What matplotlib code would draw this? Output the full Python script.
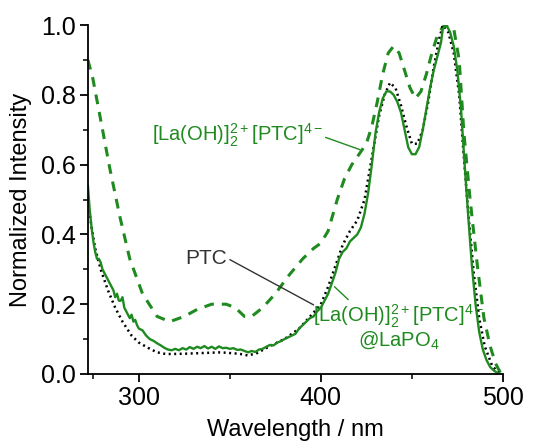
import numpy as np
import matplotlib.pyplot as plt
from matplotlib.ticker import FixedLocator, MultipleLocator

plt.rcParams['font.family'] = ['Liberation Sans', 'DejaVu Sans']
plt.rcParams['mathtext.fontset'] = 'custom'
plt.rcParams['mathtext.rm'] = 'Liberation Sans'

# [La(OH)]2[PTC] (dashed)
wl_dash = [272, 274.6, 278.6, 284, 289.6, 295, 302, 310, 317, 325, 332, 340, 348, 353, 358, 362,
           368, 375, 382, 390, 396, 400, 404, 409, 413, 417, 421, 425, 428, 431, 434, 437, 440,
           443, 446, 449, 452, 455, 458, 461, 464, 467, 470, 473, 476, 478.6, 482, 486, 489.6,
           493, 496, 499]
y_dash = [0.9, 0.85, 0.74, 0.59, 0.45, 0.33, 0.23, 0.165, 0.15, 0.165, 0.185, 0.2, 0.2, 0.19, 0.165, 0.165,
          0.19, 0.23, 0.28, 0.33, 0.36, 0.375, 0.41, 0.5, 0.56, 0.6, 0.63, 0.66, 0.71, 0.78, 0.86, 0.92, 0.94,
          0.92, 0.87, 0.82, 0.79, 0.81, 0.86, 0.92, 0.97, 0.995, 1.0, 0.99, 0.9, 0.69, 0.5, 0.31, 0.16,
          0.08, 0.03, 0.0]

# PTC (dotted)
wl_dot = [272, 274, 276, 279, 283, 287, 291, 296, 300, 305, 310, 315, 325, 335, 345, 355, 360, 365,
          372, 380, 388, 395, 400, 404, 408, 412, 416, 420, 424, 428, 432, 435, 438, 441, 444, 447,
          450, 453, 456, 459, 462, 465, 467, 470, 473, 476, 478, 481, 484, 487, 490, 494, 498]
y_dot = [0.5, 0.42, 0.36, 0.3, 0.24, 0.19, 0.15, 0.11, 0.09, 0.075, 0.062, 0.057, 0.058, 0.06, 0.062, 0.058, 0.053, 0.06,
         0.08, 0.1, 0.13, 0.17, 0.2, 0.25, 0.31, 0.37, 0.41, 0.44, 0.5, 0.62, 0.74, 0.8, 0.835, 0.82, 0.77, 0.71,
         0.66, 0.66, 0.7, 0.78, 0.88, 0.96, 1.0, 0.98, 0.92, 0.8, 0.66, 0.46, 0.29, 0.16, 0.08, 0.025, 0.0]

# [La(OH)]2[PTC]@LaPO4 (solid, noisy)
wl_sol = [272, 273, 274, 275, 276, 277, 278, 279, 280, 281, 282, 283, 284, 285, 286, 287, 288, 289,
          290, 291, 292, 293, 294, 295, 296, 297, 298, 299, 300, 302, 304, 306, 308, 310, 312, 314,
          316, 318, 320, 322, 324, 326, 328, 330, 332, 334, 336, 338, 340, 342, 344, 346, 348, 350,
          352, 354, 356, 358, 360, 362, 364, 366, 368, 370, 372, 374, 376, 378, 380, 382, 384, 386,
          388, 390, 392, 394, 396, 398, 400, 402, 404, 406, 408, 410, 412, 414, 416, 418, 420, 422,
          424, 426, 428, 430, 432, 434, 436, 438, 440, 442, 444, 446, 448, 450, 452, 454, 456, 458,
          460, 462, 464, 466, 467, 469, 471, 473, 475, 477, 479, 481, 483, 485, 487, 489, 491, 493,
          495, 497, 499]
y_sol = [0.54, 0.47, 0.42, 0.38, 0.35, 0.33, 0.33, 0.32, 0.3, 0.29, 0.28, 0.27, 0.26, 0.25, 0.24, 0.22, 0.23, 0.21,
         0.21, 0.22, 0.19, 0.18, 0.17, 0.16, 0.17, 0.15, 0.155, 0.14, 0.13, 0.125, 0.11, 0.1, 0.095, 0.088, 0.082, 0.075,
         0.07, 0.068, 0.072, 0.068, 0.074, 0.07, 0.077, 0.072, 0.078, 0.074, 0.08, 0.073, 0.078, 0.072, 0.079, 0.074, 0.075, 0.072,
         0.074, 0.069, 0.07, 0.066, 0.062, 0.066, 0.063, 0.07, 0.072, 0.078, 0.083, 0.082, 0.09, 0.094, 0.1, 0.105, 0.11, 0.115,
         0.13, 0.14, 0.15, 0.16, 0.165, 0.18, 0.19, 0.21, 0.23, 0.26, 0.29, 0.33, 0.35, 0.36, 0.38, 0.39, 0.4, 0.42,
         0.46, 0.52, 0.6, 0.69, 0.75, 0.79, 0.81, 0.81, 0.8, 0.78, 0.75, 0.7, 0.65, 0.63, 0.63, 0.65, 0.7, 0.76,
         0.82, 0.87, 0.91, 0.95, 0.99, 1.0, 0.98, 0.94, 0.87, 0.76, 0.6, 0.45, 0.31, 0.2, 0.12, 0.07, 0.04, 0.02,
         0.01, 0.003, 0.0]

green = '#1f8a1f'

fig = plt.figure(figsize=(5.46, 4.41), dpi=100)
ax = fig.add_axes([0.161, 0.152, 0.76, 0.791])

ax.plot(wl_dash, y_dash, color=green, lw=2.2, ls=(0, (3.2, 2.6)))
ax.plot(wl_dot, y_dot, color='black', lw=1.8, ls=(0, (0.8, 1.4)))
ax.plot(wl_sol, y_sol, color=green, lw=1.7)

ax.set_xlim(272, 500)
ax.set_ylim(0, 1.0)
ax.xaxis.set_major_locator(FixedLocator([300, 400, 500]))
ax.xaxis.set_minor_locator(FixedLocator([275, 350, 450]))
ax.yaxis.set_major_locator(MultipleLocator(0.2))
ax.yaxis.set_minor_locator(MultipleLocator(0.1))
ax.yaxis.set_major_formatter(plt.FuncFormatter(lambda v, p: f'{v:.1f}'))
for s in ['top', 'right']:
    ax.spines[s].set_visible(False)
for s in ['left', 'bottom']:
    ax.spines[s].set_linewidth(1.3)
ax.tick_params(which='major', direction='out', length=6, width=1.3, labelsize=18, pad=3)
ax.tick_params(which='minor', direction='out', length=3.5, width=1.1)

ax.set_xlabel('Wavelength / nm', fontsize=17, labelpad=6)
ax.set_ylabel('Normalized Intensity', fontsize=17, labelpad=6)

lab = r'[La(OH)]$_2^{2+}$[PTC]$^{4-}$'
ax.annotate(lab, xy=(421.5, 0.643), xytext=(354, 0.685), color=green, fontsize=14.5,
            ha='center', va='center',
            arrowprops=dict(arrowstyle='-', color=green, lw=1.0, shrinkA=0, shrinkB=0,
                            relpos=(1.0, 0.45)))
ax.annotate('PTC', xy=(396, 0.198), xytext=(337, 0.332), color='#333333', fontsize=15,
            ha='center', va='center',
            arrowprops=dict(arrowstyle='-', color='#333333', lw=1.0, shrinkA=0, shrinkB=0,
                            relpos=(1.0, 0.5)))
ax.annotate(lab + '\n@LaPO$_4$', xy=(407.5, 0.25), xytext=(443, 0.135), color=green, fontsize=14.5,
            ha='center', va='center', linespacing=1.0,
            arrowprops=dict(arrowstyle='-', color=green, lw=1.0, shrinkA=0, shrinkB=0,
                            relpos=(0.22, 1.0)))

fig.savefig('out.png', dpi=100)
